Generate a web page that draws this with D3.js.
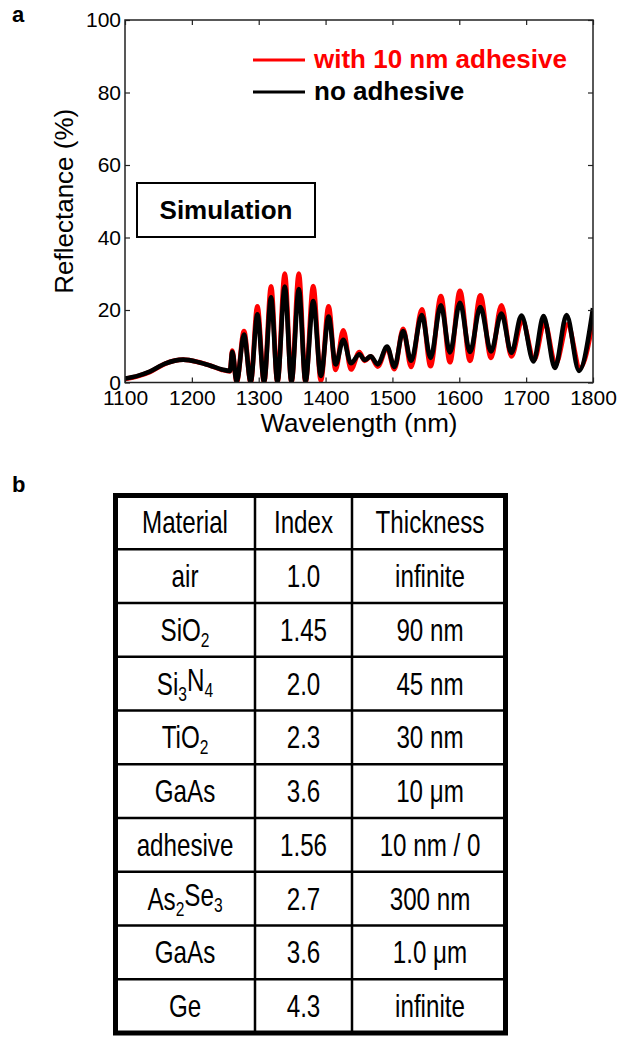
<!DOCTYPE html>
<html>
<head>
<meta charset="utf-8">
<script src="https://cdn.jsdelivr.net/npm/d3@7"></script>
<style>
  body { margin: 0; background: #fff; }
  svg { display: block; font-family: "Liberation Sans", Arial, sans-serif; }
</style>
</head>
<body>
<script>
// axis ticks
const xTicks = [1100, 1200, 1300, 1400, 1500, 1600, 1700, 1800];
const yTicks = [0, 20, 40, 60, 80, 100];

// simulated reflectance, no adhesive [wavelength nm, R %]
const noAdhesive = [
  [1100, 1.1], [1120, 1.9], [1137, 3.0], [1160, 5.2], [1187, 6.3], [1210, 5.6], [1227, 4.7], [1245, 3.6], [1257, 3.2],
  [1260.5, 8.5], [1267, 0.2], [1278, 13.2], [1288, 0.2], [1298, 18.8], [1308, 0.2], [1318.5, 23.5], [1328, 0.2],
  [1339, 26.5], [1349, 0.2], [1360, 25.8], [1370, 0.3], [1381.5, 22.5], [1393, 1.8], [1404.5, 18.2], [1415, 5.0],
  [1426.5, 11.8], [1438, 5.3], [1450.5, 7.8], [1458.5, 6.2], [1467.5, 7.2], [1478, 5.0], [1492, 9.9], [1503, 4.3],
  [1516, 14.2], [1528, 6.0], [1544, 18.6], [1557, 6.8], [1572.5, 21.3], [1586, 8.3], [1601, 22.0], [1616, 8.4],
  [1631.5, 20.8], [1647.5, 8.6], [1663, 19.0], [1678, 8.2], [1693, 18.5], [1711, 5.8], [1726, 18.3], [1743, 4.0],
  [1760.5, 18.6], [1779, 3.2], [1800, 20.5]
];

// simulated reflectance, with 10 nm adhesive
const withAdhesive = [
  [1100, 1.0], [1120, 1.8], [1137, 2.9], [1160, 5.2], [1187, 6.3], [1210, 5.6], [1227, 4.7], [1245, 3.5], [1257, 3.1],
  [1260.5, 8.8], [1267, 0], [1278, 14.2], [1288, 0], [1298, 21.0], [1308, 0], [1318.5, 26.5], [1328, 0],
  [1339, 30.0], [1349, 0], [1360, 30.0], [1370, 0], [1381.5, 26.6], [1393, 0.5], [1404.5, 21.0], [1415, 3.5],
  [1426.5, 14.4], [1438, 3.6], [1450.5, 8.4], [1458.5, 6.0], [1467.5, 7.2], [1478, 4.4], [1492, 9.6], [1503, 3.7],
  [1516, 14.8], [1528, 4.3], [1544, 20.2], [1557, 4.5], [1572.5, 23.8], [1586, 5.6], [1601, 25.3], [1616, 6.0],
  [1631.5, 24.0], [1647.5, 6.8], [1663, 21.3], [1678, 7.2], [1694, 17.2], [1712, 6.3], [1727.5, 16.6], [1744, 5.0],
  [1762, 16.0], [1780.5, 4.0], [1800, 17.0]
];

// layer stack table (b)
const tableHeader = ["Material", "Index", "Thickness"];
const materials = ["air", "SiO_2", "Si_3N_4", "TiO_2", "GaAs", "adhesive", "As_2Se_3", "GaAs", "Ge"];
const indices = ["1.0", "1.45", "2.0", "2.3", "3.6", "1.56", "2.7", "3.6", "4.3"];
const thicknesses = ["infinite", "90 nm", "45 nm", "30 nm", "10 \u03bcm", "10 nm / 0", "300 nm", "1.0 \u03bcm", "infinite"];

const width = 619, height = 1037;

const svg = d3.select("body").append("svg")
  .attr("width", width)
  .attr("height", height);

// ---- panel a ----
const plot = { left: 125, right: 593, top: 20, bottom: 382.5 };

const x = d3.scaleLinear().domain([1100, 1800]).range([plot.left, plot.right]);
const y = d3.scaleLinear().domain([0, 100]).range([plot.bottom, plot.top]);

svg.append("clipPath").attr("id", "plotClip")
  .append("rect")
  .attr("x", plot.left).attr("y", plot.top)
  .attr("width", plot.right - plot.left).attr("height", plot.bottom - plot.top);

const line = d3.line()
  .x(d => x(d[0]))
  .y(d => y(d[1]))
  .curve(d3.curveMonotoneX);

const curves = svg.append("g").attr("clip-path", "url(#plotClip)");

curves.append("path")
  .datum(withAdhesive)
  .attr("fill", "none")
  .attr("stroke", "#ff0000")
  .attr("stroke-width", 4.8)
  .attr("stroke-linejoin", "round")
  .attr("d", line);

curves.append("path")
  .datum(noAdhesive)
  .attr("fill", "none")
  .attr("stroke", "#000")
  .attr("stroke-width", 4.6)
  .attr("stroke-linejoin", "round")
  .attr("d", line);

// axes, ticks pointing inward on all four sides
const styleAxis = g => {
  g.select(".domain").remove();
  g.selectAll(".tick line").attr("stroke", "#222").attr("stroke-width", 1.2);
  g.selectAll(".tick text")
    .attr("fill", "#000")
    .style("font-size", "21px")
    .style("font-family", "'Liberation Sans', Arial, sans-serif");
};

svg.append("g")
  .attr("transform", `translate(0,${plot.bottom})`)
  .call(d3.axisBottom(x).tickValues(xTicks).tickFormat(d3.format("d"))
    .tickSizeInner(-5).tickSizeOuter(0).tickPadding(8))
  .call(styleAxis);

svg.append("g")
  .attr("transform", `translate(${plot.left},0)`)
  .call(d3.axisLeft(y).tickValues(yTicks).tickSizeInner(-5).tickSizeOuter(0).tickPadding(4))
  .call(styleAxis);

svg.append("g")
  .attr("transform", `translate(0,${plot.top})`)
  .call(d3.axisTop(x).tickValues(xTicks).tickSizeInner(-5).tickSizeOuter(0).tickFormat(""))
  .call(styleAxis);

svg.append("g")
  .attr("transform", `translate(${plot.right},0)`)
  .call(d3.axisRight(y).tickValues(yTicks).tickSizeInner(-5).tickSizeOuter(0).tickFormat(""))
  .call(styleAxis);

// frame
svg.append("rect")
  .attr("x", plot.left).attr("y", plot.top)
  .attr("width", plot.right - plot.left).attr("height", plot.bottom - plot.top)
  .attr("fill", "none")
  .attr("stroke", "#222")
  .attr("stroke-width", 1.5);

// axis titles
svg.append("text")
  .attr("x", (plot.left + plot.right) / 2)
  .attr("y", 432)
  .attr("text-anchor", "middle")
  .style("font-size", "26px")
  .text("Wavelength (nm)");

svg.append("text")
  .attr("transform", `translate(73,${(plot.top + plot.bottom) / 2}) rotate(-90)`)
  .attr("text-anchor", "middle")
  .style("font-size", "26px")
  .text("Reflectance (%)");

// legend
const legendItems = [
  { label: "with 10 nm adhesive", color: "#ff0000", y: 60 },
  { label: "no adhesive", color: "#000", y: 92 }
];
const legend = svg.append("g");
legend.selectAll("line")
  .data(legendItems)
  .join("line")
  .attr("x1", 253).attr("x2", 305)
  .attr("y1", d => d.y).attr("y2", d => d.y)
  .attr("stroke", d => d.color)
  .attr("stroke-width", 3);
legend.selectAll("text")
  .data(legendItems)
  .join("text")
  .attr("x", 314)
  .attr("y", d => d.y + 8)
  .attr("fill", d => d.color)
  .style("font-size", "26px")
  .style("font-weight", "bold")
  .text(d => d.label);

// "Simulation" box
svg.append("rect")
  .attr("x", 137).attr("y", 183)
  .attr("width", 178).attr("height", 54)
  .attr("fill", "#fff")
  .attr("stroke", "#000")
  .attr("stroke-width", 2);
svg.append("text")
  .attr("x", 226).attr("y", 219)
  .attr("text-anchor", "middle")
  .style("font-size", "26px")
  .style("font-weight", "bold")
  .text("Simulation");

// panel letters
svg.append("text").attr("x", 12).attr("y", 22)
  .style("font-size", "22px").style("font-weight", "bold").text("a");
svg.append("text").attr("x", 12).attr("y", 492)
  .style("font-size", "22px").style("font-weight", "bold").text("b");

// ---- panel b: table ----
const table = { left: 115.5, right: 505.5, top: 495.5, bottom: 1033 };
const colEdges = [table.left, 255, 352, table.right];
const colCenters = [185, 303.5, 430];

const rows = [tableHeader].concat(materials.map((m, i) => [m, indices[i], thicknesses[i]]));

const rowScale = d3.scaleBand()
  .domain(d3.range(rows.length))
  .range([table.top, table.bottom]);

const tbl = svg.append("g");

// inner row lines
tbl.selectAll("line.row")
  .data(d3.range(1, rows.length))
  .join("line")
  .attr("class", "row")
  .attr("x1", table.left).attr("x2", table.right)
  .attr("y1", d => rowScale(d)).attr("y2", d => rowScale(d))
  .attr("stroke", "#000").attr("stroke-width", 2.5);

// inner column lines
tbl.selectAll("line.col")
  .data(colEdges.slice(1, 3))
  .join("line")
  .attr("class", "col")
  .attr("x1", d => d).attr("x2", d => d)
  .attr("y1", table.top).attr("y2", table.bottom)
  .attr("stroke", "#000").attr("stroke-width", 2.5);

tbl.append("rect")
  .attr("x", table.left).attr("y", table.top)
  .attr("width", table.right - table.left).attr("height", table.bottom - table.top)
  .attr("fill", "none")
  .attr("stroke", "#000")
  .attr("stroke-width", 5);

// cell text, "_n" marks a subscript digit
const cells = [];
rows.forEach((r, ri) => r.forEach((txt, ci) => cells.push({ txt, ri, ci })));

tbl.selectAll("text.cell")
  .data(cells)
  .join("text")
  .attr("class", "cell")
  .attr("transform", d => `translate(${colCenters[d.ci]},${rowScale(d.ri) + rowScale.bandwidth() / 2 + 11}) scale(0.78,1)`)
  .attr("text-anchor", "middle")
  .style("font-size", "31px")
  .each(function(d) {
    const t = d3.select(this);
    d.txt.split(/(_\d)/).filter(s => s !== "").forEach(part => {
      if (part[0] === "_") {
        t.append("tspan").attr("dy", "0.3em").style("font-size", "20px").text(part.slice(1));
      } else {
        const sp = t.append("tspan").text(part);
        if (t.selectAll("tspan").size() > 1) sp.attr("dy", "-0.3em");
      }
    });
  });
</script>
</body>
</html>
